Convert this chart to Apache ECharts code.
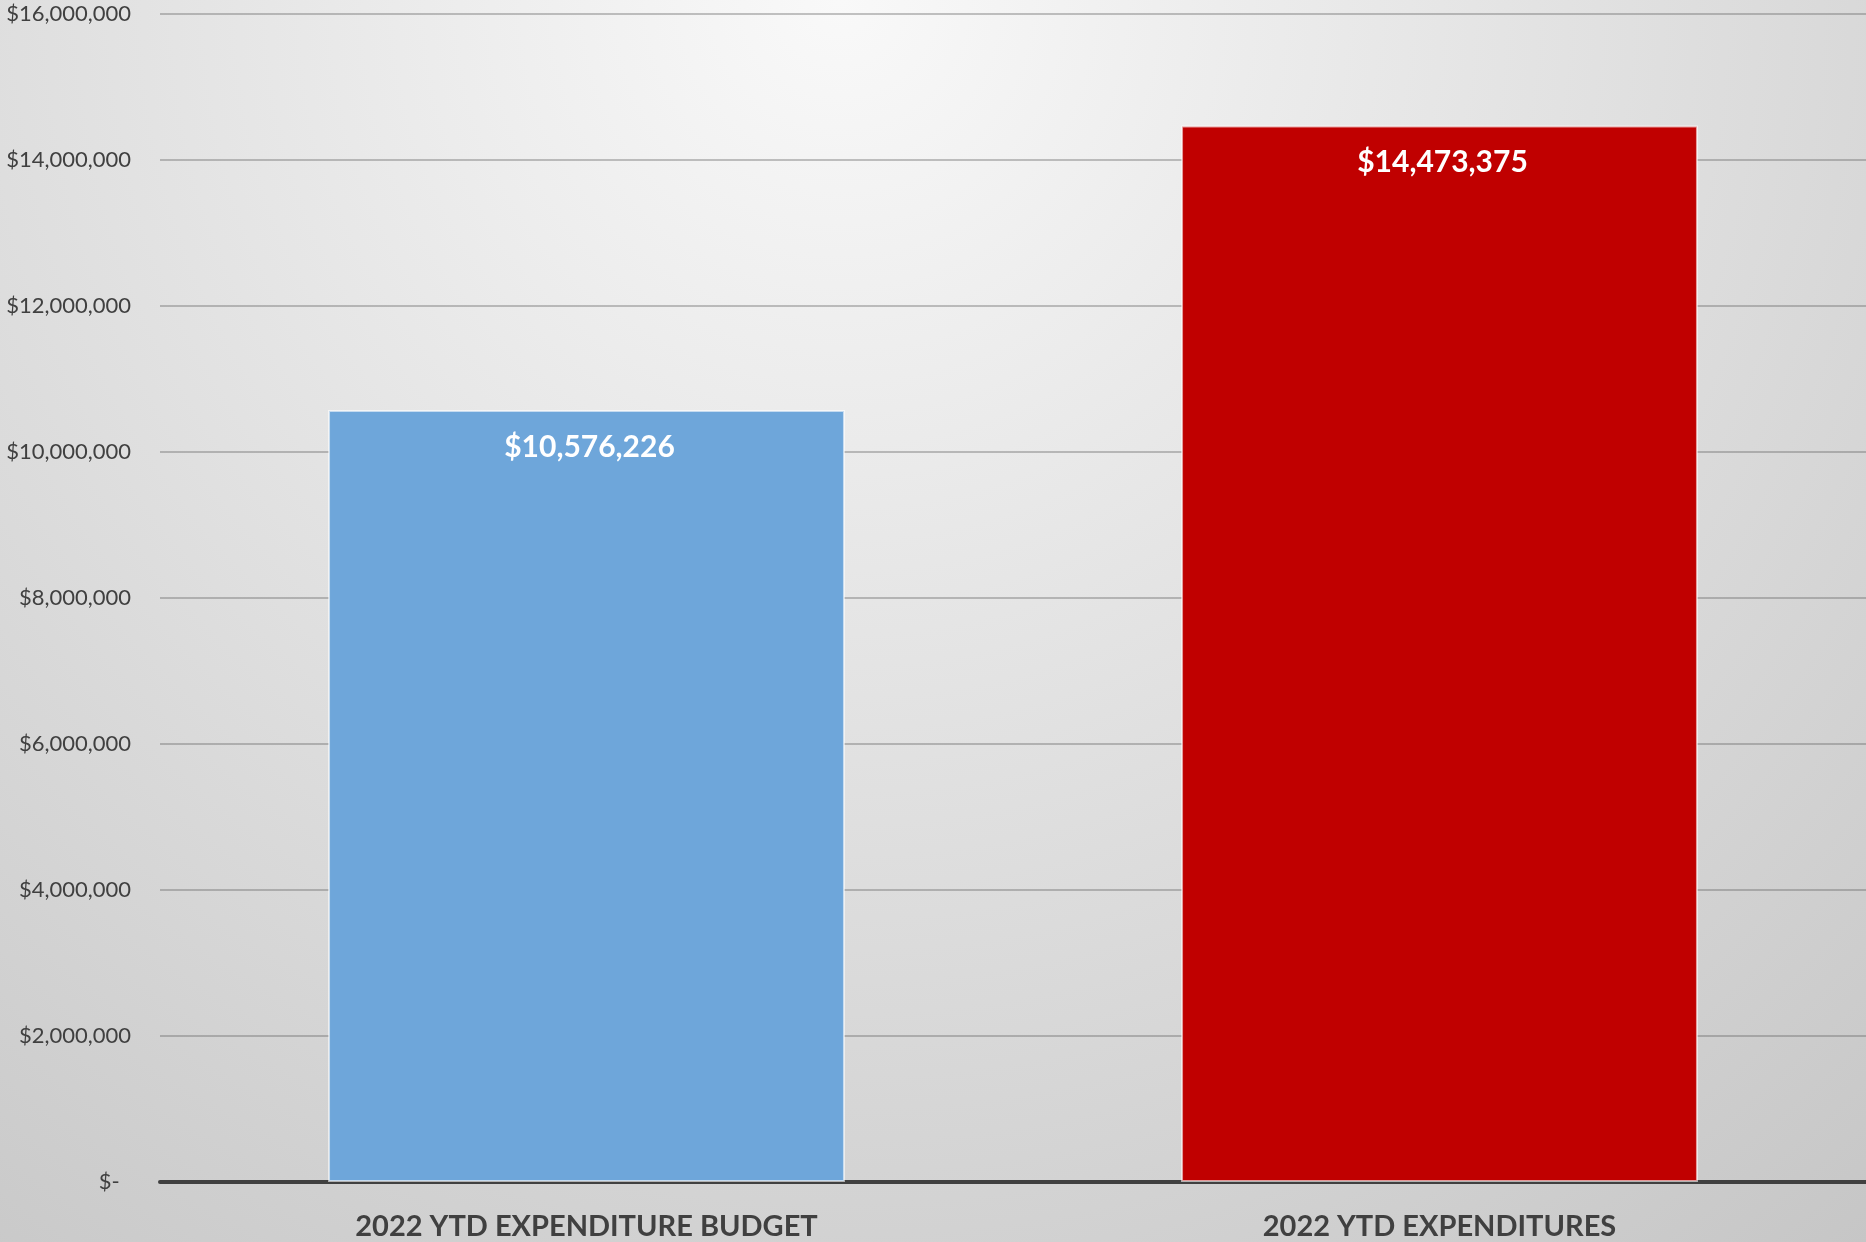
<!DOCTYPE html>
<html>
<head>
<meta charset="utf-8">
<script src="https://cdn.jsdelivr.net/npm/echarts@6/dist/echarts.min.js"></script>
<style>
html,body{margin:0;padding:0;}
#chart{width:1866px;height:1242px;}
</style>
</head>
<body>
<div id="chart"></div>
<script>
const categories = ['2022 YTD EXPENDITURE BUDGET', '2022 YTD EXPENDITURES'];
const values = [10576226, 14473375];
const barColors = ['#6ea6da', '#c00000'];
const yTicks = [0, 2000000, 4000000, 6000000, 8000000, 10000000, 12000000, 14000000, 16000000];

function money(v) {
  if (v === 0) return '$-  ';
  return '$' + v.toLocaleString('en-US');
}

const chart = echarts.init(document.getElementById('chart'));
chart.setOption({
  backgroundColor: {
    type: 'radial', x: 0.45, y: 0, r: 1.35,
    colorStops: [{offset: 0, color: '#f9f9f9'}, {offset: 1, color: '#c4c4c4'}]
  },
  textStyle: {fontFamily: 'Lato'},
  grid: {left: 160, right: 0, top: 14, bottom: 60},
  xAxis: {
    type: 'category',
    data: categories,
    axisLine: {lineStyle: {color: '#404040', width: 4}},
    axisTick: {show: false},
    axisLabel: {
      fontFamily: 'Lato', fontWeight: 'bold', fontSize: 29, color: '#404040',
      margin: 30, verticalAlign: 'top', interval: 0
    }
  },
  yAxis: {
    type: 'value',
    min: yTicks[0], max: yTicks[yTicks.length - 1], interval: 2000000,
    axisLine: {show: false},
    axisTick: {show: false},
    splitLine: {lineStyle: {color: 'rgba(100,100,100,0.38)', width: 2}},
    axisLabel: {
      fontFamily: 'Lato', fontSize: 22, color: '#404040', margin: 29,
      formatter: money
    }
  },
  series: [{
    type: 'bar',
    data: values.map((v, i) => ({value: v, itemStyle: {color: barColors[i]}})),
    barCategoryGap: '39.4%',
    itemStyle: {borderColor: 'rgba(255,255,255,0.6)', borderWidth: 2},
    label: {
      show: true, position: 'insideTop', distance: 22,
      color: '#ffffff', fontFamily: 'Lato', fontWeight: 'bold', fontSize: 30,
      offset: [3, 0],
      formatter: p => money(p.value)
    },
    silent: true
  }]
});
</script>
</body>
</html>
